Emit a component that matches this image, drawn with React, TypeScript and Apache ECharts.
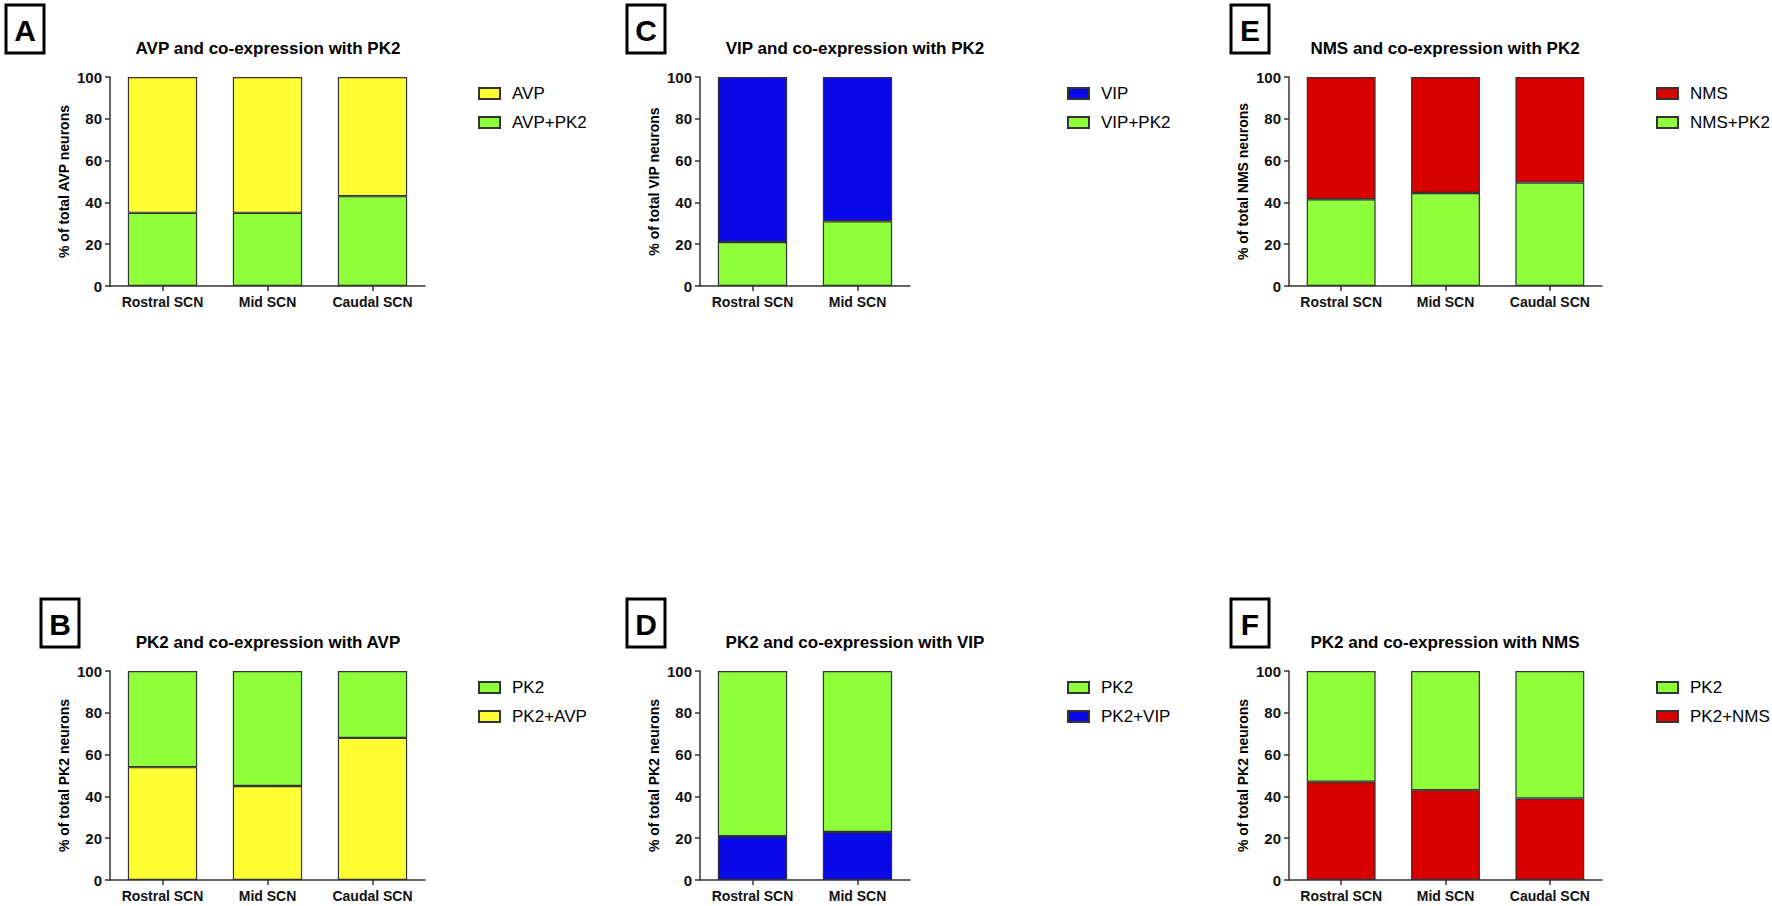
import React, { useEffect, useRef } from "react";
import * as echarts from "echarts";

const FONT = "'Liberation Sans', Arial, Helvetica, sans-serif";

// categories
const regions3 = ["Rostral SCN", "Mid SCN", "Caudal SCN"];
const regions2 = ["Rostral SCN", "Mid SCN"];

// A: AVP and co-expression with PK2
const avpPk2 = [35, 35, 43];
const avpOnly = [65, 65, 57];
// B: PK2 and co-expression with AVP
const pk2Avp = [54, 45, 68];
const pk2OnlyB = [46, 55, 32];
// C: VIP and co-expression with PK2
const vipPk2 = [21, 31];
const vipOnly = [79, 69];
// D: PK2 and co-expression with VIP
const pk2Vip = [21, 23];
const pk2OnlyD = [79, 77];
// E: NMS and co-expression with PK2
const nmsPk2 = [41.5, 44.5, 49.5];
const nmsOnly = [58.5, 55.5, 50.5];
// F: PK2 and co-expression with NMS
const pk2Nms = [47, 43, 39];
const pk2OnlyF = [53, 57, 61];

const yTicks = { min: 0, max: 100, interval: 20 };

const YELLOW = "#FFFF33";
const GREEN = "#8FFF3C";
const BLUE = "#0A0AE8";
const RED = "#D90000";

type Seg = { name: string; data: number[]; color: string };
type Panel = {
  letter: string;
  title: string;
  yName: string;
  cats: string[];
  base: Seg;
  rest: Seg;
  left: number;
  width: number;
  top: number;
  titleX: number;
  boxX: number;
  legendX: number;
};

const TOP1 = 77;
const TOP2 = 671;
const PLOT_H = 209;

const panels: Panel[] = [
  {
    letter: "A", title: "AVP and co-expression with PK2", yName: "% of total AVP neurons", cats: regions3,
    base: { name: "AVP+PK2", data: avpPk2, color: GREEN }, rest: { name: "AVP", data: avpOnly, color: YELLOW },
    left: 110, width: 315, top: TOP1, titleX: 268, boxX: 6, legendX: 473,
  },
  {
    letter: "B", title: "PK2 and co-expression with AVP", yName: "% of total PK2 neurons", cats: regions3,
    base: { name: "PK2+AVP", data: pk2Avp, color: YELLOW }, rest: { name: "PK2", data: pk2OnlyB, color: GREEN },
    left: 110, width: 315, top: TOP2, titleX: 268, boxX: 41, legendX: 473,
  },
  {
    letter: "C", title: "VIP and co-expression with PK2", yName: "% of total VIP neurons", cats: regions2,
    base: { name: "VIP+PK2", data: vipPk2, color: GREEN }, rest: { name: "VIP", data: vipOnly, color: BLUE },
    left: 700, width: 210, top: TOP1, titleX: 855, boxX: 627, legendX: 1062,
  },
  {
    letter: "D", title: "PK2 and co-expression with VIP", yName: "% of total PK2 neurons", cats: regions2,
    base: { name: "PK2+VIP", data: pk2Vip, color: BLUE }, rest: { name: "PK2", data: pk2OnlyD, color: GREEN },
    left: 700, width: 210, top: TOP2, titleX: 855, boxX: 627, legendX: 1062,
  },
  {
    letter: "E", title: "NMS and co-expression with PK2", yName: "% of total NMS neurons", cats: regions3,
    base: { name: "NMS+PK2", data: nmsPk2, color: GREEN }, rest: { name: "NMS", data: nmsOnly, color: RED },
    left: 1289, width: 313, top: TOP1, titleX: 1445, boxX: 1231, legendX: 1651,
  },
  {
    letter: "F", title: "PK2 and co-expression with NMS", yName: "% of total PK2 neurons", cats: regions3,
    base: { name: "PK2+NMS", data: pk2Nms, color: RED }, rest: { name: "PK2", data: pk2OnlyF, color: GREEN },
    left: 1289, width: 313, top: TOP2, titleX: 1445, boxX: 1231, legendX: 1651,
  },
];

const App: React.FC = () => {
  const chartRef = useRef<HTMLDivElement | null>(null);

  useEffect(() => {
    document.body.style.margin = "0";
    const dom = chartRef.current;
    if (!dom) return;
    const chart = echarts.init(dom, null, { renderer: "svg" });

    const axisLine = { show: true, lineStyle: { color: "#333", width: 1.5 } };
    const axisTick = { show: true, length: 5, lineStyle: { color: "#333", width: 1.5 } };
    const labelStyle = { color: "#111", fontWeight: "bold" as const, fontFamily: FONT };

    const series: any[] = [];
    panels.forEach((p, i) => {
      [p.base, p.rest].forEach((s) => {
        series.push({
          type: "bar",
          name: s.name,
          stack: "panel" + i,
          xAxisIndex: i,
          yAxisIndex: i,
          data: s.data,
          barCategoryGap: "34%",
          itemStyle: { color: s.color, borderColor: "#333", borderWidth: 1.2 },
          emphasis: { disabled: true },
        });
      });
    });

    const graphic: any[] = [];
    panels.forEach((p) => {
      const boxY = p.top === TOP1 ? 5 : 599;
      graphic.push({
        type: "rect",
        shape: { x: p.boxX, y: boxY, width: 38, height: 48 },
        style: { fill: "none", stroke: "#000", lineWidth: 3 },
      });
      graphic.push({
        type: "text",
        x: p.boxX + 19,
        y: boxY + 25,
        style: {
          text: p.letter, fontSize: 30, fontWeight: "bold", fontFamily: FONT,
          fill: "#000", align: "center", verticalAlign: "middle",
        },
      });
      graphic.push({
        type: "text",
        x: p.titleX,
        y: p.top - 29,
        style: {
          text: p.title, fontSize: 17, fontWeight: "bold", fontFamily: FONT,
          fill: "#000", align: "center", verticalAlign: "middle",
        },
      });
    });

    const option = {
      animation: false,
      backgroundColor: "#fff",
      grid: panels.map((p) => ({ left: p.left, width: p.width, top: p.top, height: PLOT_H })),
      xAxis: panels.map((p, i) => ({
        type: "category",
        gridIndex: i,
        data: p.cats,
        axisLine,
        axisTick: { ...axisTick, alignWithLabel: true },
        axisLabel: { ...labelStyle, fontSize: 14, margin: 9, interval: 0 },
      })),
      yAxis: panels.map((p, i) => ({
        type: "value",
        gridIndex: i,
        ...yTicks,
        name: p.yName,
        nameLocation: "middle",
        nameRotate: 90,
        nameGap: 39,
        nameTextStyle: { ...labelStyle, color: "#000", fontSize: 14 },
        axisLine,
        axisTick,
        splitLine: { show: false },
        axisLabel: { ...labelStyle, fontSize: 15, margin: 8 },
      })),
      legend: panels.map((p) => ({
        orient: "vertical",
        left: p.legendX,
        top: p.top + 3,
        icon: "rect",
        itemWidth: 21,
        itemHeight: 11,
        itemGap: 12,
        selectedMode: false,
        data: [p.rest.name, p.base.name],
        textStyle: { fontSize: 17, color: "#000", fontFamily: FONT, padding: [0, 0, 0, 7] },
      })),
      graphic,
      series,
    };

    chart.setOption(option);
    const onResize = () => chart.resize();
    window.addEventListener("resize", onResize);
    return () => {
      window.removeEventListener("resize", onResize);
      chart.dispose();
    };
  }, []);

  return <div ref={chartRef} style={{ width: "1772px", height: "906px" }} />;
};

export default App;
